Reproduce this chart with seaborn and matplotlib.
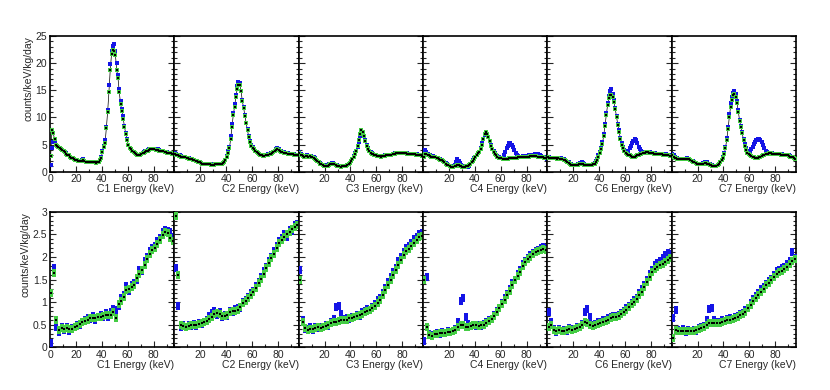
import numpy as np
import matplotlib
matplotlib.use("Agg")
import matplotlib.pyplot as plt
import matplotlib.ticker as mticker
import seaborn as sns

# energy bin centres (keV)
top_energy = np.arange(0.5, 96, 1.0)    # 1 keV bins, top row
bottom_energy = np.arange(1, 96, 2.0)   # 2 keV bins, bottom row

channels = ["C1", "C2", "C3", "C4", "C6", "C7"]

# ---- top row: full spectra (counts/keV/kg/day) ----
top_blue_c1 = [1.2, 4.3, 5.5, 5.5, 5.0, 4.8, 4.6, 4.4, 4.2, 4.0,
               3.8, 3.6, 3.4, 3.1, 3.0, 2.8, 2.6, 2.5, 2.3, 2.2,
               2.1, 2.0, 2.0, 1.9, 2.1, 2.3, 2.0, 1.8, 1.8, 1.8,
               1.7, 1.7, 1.7, 1.7, 1.7, 1.7, 1.7, 1.8, 2.2, 2.7,
               3.8, 4.8, 5.8, 8.3, 11.4, 16.0, 19.8, 22.3, 23.1, 23.5,
               22.3, 20.1, 17.9, 15.2, 13.0, 11.5, 10.2, 8.5, 7.2, 6.1,
               5.0, 4.4, 4.1, 3.8, 3.6, 3.4, 3.2, 3.1, 3.0, 3.1,
               3.3, 3.4, 3.6, 3.8, 3.9, 4.0, 4.1, 4.2, 4.2, 4.2,
               4.1, 4.1, 4.0, 4.1, 4.0, 3.9, 3.9, 3.8, 3.7, 3.7,
               3.6, 3.5, 3.5, 3.4, 3.3, 3.2]
top_green_c1 = [2.9, 7.7, 7.1, 6.0, 5.0, 4.7, 4.5, 4.4, 4.2, 4.0,
                3.8, 3.6, 3.3, 3.1, 3.0, 2.8, 2.6, 2.5, 2.3, 2.2,
                2.1, 2.0, 2.0, 1.9, 2.0, 2.1, 1.9, 1.8, 1.8, 1.8,
                1.7, 1.7, 1.7, 1.7, 1.7, 1.6, 1.7, 1.8, 2.1, 2.6,
                3.6, 4.6, 5.3, 8.0, 11.0, 14.7, 18.7, 21.6, 22.5, 22.3,
                21.5, 18.8, 17.3, 14.6, 12.5, 11.2, 9.8, 8.3, 7.0, 5.9,
                4.9, 4.4, 4.1, 3.8, 3.6, 3.4, 3.2, 3.1, 3.0, 3.1,
                3.2, 3.4, 3.5, 3.7, 3.8, 3.9, 4.0, 4.1, 4.1, 4.1,
                4.1, 4.0, 4.0, 4.0, 3.9, 3.9, 3.8, 3.8, 3.7, 3.6,
                3.5, 3.5, 3.4, 3.4, 3.3, 3.2]
top_blue_c2 = [3.4, 3.2, 3.0, 2.9, 3.0, 2.9, 2.8, 2.8, 2.7, 2.6,
               2.5, 2.5, 2.4, 2.3, 2.2, 2.1, 2.0, 1.9, 1.8, 1.7,
               1.6, 1.5, 1.5, 1.5, 1.4, 1.4, 1.4, 1.4, 1.4, 1.3,
               1.35, 1.35, 1.4, 1.4, 1.4, 1.4, 1.5, 1.6, 1.8, 2.2,
               2.9, 3.8, 4.6, 6.5, 8.8, 10.8, 12.4, 14.2, 15.8, 16.6,
               16.3, 14.8, 13.2, 12.0, 10.5, 9.0, 7.8, 6.6, 5.6, 4.9,
               4.5, 4.2, 3.9, 3.7, 3.5, 3.3, 3.1, 3.0, 2.9, 2.9,
               3.0, 3.1, 3.2, 3.3, 3.4, 3.5, 3.7, 3.9, 4.1, 4.3,
               4.1, 3.9, 3.8, 3.7, 3.6, 3.5, 3.4, 3.4, 3.3, 3.3,
               3.3, 3.2, 3.2, 3.1, 3.1, 3.0]
top_green_c2 = [3.2, 3.1, 3.0, 2.9, 2.9, 2.8, 2.8, 2.7, 2.7, 2.6,
                2.5, 2.4, 2.4, 2.3, 2.2, 2.1, 2.0, 1.9, 1.8, 1.7,
                1.6, 1.5, 1.5, 1.4, 1.4, 1.4, 1.4, 1.4, 1.3, 1.3,
                1.3, 1.35, 1.35, 1.4, 1.4, 1.4, 1.5, 1.6, 1.8, 2.1,
                2.7, 3.5, 4.3, 6.0, 8.3, 10.4, 12.0, 13.7, 15.2, 16.0,
                16.0, 14.9, 13.0, 11.8, 10.3, 8.9, 7.6, 6.4, 5.5, 4.8,
                4.4, 4.1, 3.8, 3.6, 3.4, 3.2, 3.1, 3.0, 2.9, 2.9,
                3.0, 3.0, 3.1, 3.2, 3.3, 3.4, 3.6, 3.8, 4.0, 4.2,
                4.0, 3.8, 3.7, 3.6, 3.5, 3.4, 3.4, 3.3, 3.3, 3.2,
                3.2, 3.2, 3.1, 3.1, 3.0, 3.0]
top_blue_c3 = [3.7, 3.2, 3.0, 2.9, 2.9, 2.9, 3.0, 2.9, 2.9, 2.9,
               2.8, 2.7, 2.5, 2.2, 2.0, 1.8, 1.6, 1.4, 1.3, 1.2,
               1.0, 1.1, 1.2, 1.4, 1.5, 1.6, 1.6, 1.5, 1.3, 1.2,
               1.1, 1.0, 1.0, 1.0, 1.0, 1.0, 1.1, 1.2, 1.4, 1.6,
               1.9, 2.4, 2.9, 3.4, 3.8, 4.6, 5.5, 6.6, 7.1, 7.0,
               6.6, 5.8, 4.9, 4.3, 3.8, 3.6, 3.4, 3.2, 3.1, 3.0,
               2.9, 2.9, 2.9, 2.9, 2.9, 2.9, 3.0, 3.0, 3.0, 3.1,
               3.1, 3.1, 3.2, 3.3, 3.4, 3.4, 3.5, 3.5, 3.5, 3.5,
               3.5, 3.4, 3.4, 3.4, 3.3, 3.3, 3.3, 3.3, 3.2, 3.2,
               3.2, 3.2, 3.1, 3.1, 3.0, 3.0]
top_green_c3 = [3.4, 3.1, 3.0, 2.9, 2.8, 2.9, 2.9, 2.8, 2.9, 2.8,
                2.8, 2.6, 2.4, 2.1, 1.9, 1.7, 1.5, 1.4, 1.2, 1.1,
                1.0, 1.0, 1.1, 1.3, 1.4, 1.5, 1.5, 1.4, 1.2, 1.1,
                1.0, 1.0, 0.9, 1.0, 1.0, 1.0, 1.1, 1.2, 1.4, 1.6,
                1.9, 2.3, 2.8, 3.3, 3.8, 4.7, 5.8, 6.9, 7.6, 7.3,
                6.6, 5.7, 4.8, 4.2, 3.8, 3.5, 3.3, 3.2, 3.1, 3.0,
                2.9, 2.9, 2.9, 2.8, 2.9, 2.9, 2.9, 3.0, 3.0, 3.0,
                3.1, 3.1, 3.2, 3.2, 3.3, 3.4, 3.4, 3.5, 3.5, 3.5,
                3.4, 3.4, 3.4, 3.3, 3.3, 3.3, 3.3, 3.2, 3.2, 3.2,
                3.1, 3.1, 3.1, 3.0, 3.0, 2.9]
top_blue_c4 = [3.0, 4.0, 3.6, 3.3, 3.1, 3.0, 2.9, 2.9, 2.8, 2.7,
               2.6, 2.5, 2.4, 2.3, 2.1, 2.0, 1.8, 1.6, 1.4, 1.2,
               1.1, 1.0, 0.9, 1.0, 1.3, 1.8, 2.3, 2.0, 1.6, 1.2,
               1.0, 0.9, 0.9, 0.9, 0.9, 1.1, 1.4, 1.7, 2.1, 2.5,
               2.8, 3.1, 3.4, 3.7, 4.3, 5.2, 6.0, 6.8, 7.2, 6.9,
               6.4, 5.6, 4.9, 4.2, 3.8, 3.4, 3.1, 2.9, 2.8, 2.6,
               2.5, 2.6, 3.1, 3.6, 4.3, 4.8, 5.2, 5.2, 4.9, 4.5,
               4.0, 3.4, 3.0, 2.9, 2.8, 2.8, 2.8, 2.9, 2.9, 2.9,
               2.9, 3.0, 3.0, 3.0, 3.1, 3.1, 3.2, 3.3, 3.2, 3.1,
               3.0, 2.9, 2.8, 2.7, 2.5, 2.4]
top_green_c4 = [2.8, 3.2, 3.2, 3.1, 3.0, 2.9, 2.8, 2.8, 2.7, 2.7,
                2.6, 2.5, 2.4, 2.2, 2.1, 1.9, 1.7, 1.5, 1.3, 1.2,
                1.0, 0.9, 0.9, 0.9, 1.0, 1.1, 1.3, 1.2, 1.1, 1.0,
                0.9, 0.9, 0.9, 1.0, 1.1, 1.2, 1.4, 1.7, 2.0, 2.4,
                2.8, 3.1, 3.4, 3.7, 4.2, 5.0, 6.0, 6.9, 7.3, 7.0,
                6.4, 5.6, 4.8, 4.1, 3.6, 3.3, 3.0, 2.8, 2.6, 2.5,
                2.5, 2.4, 2.4, 2.4, 2.4, 2.4, 2.5, 2.5, 2.5, 2.6,
                2.6, 2.6, 2.6, 2.7, 2.7, 2.7, 2.7, 2.8, 2.8, 2.8,
                2.8, 2.8, 2.9, 2.9, 2.9, 2.9, 2.9, 2.9, 2.8, 2.8,
                2.8, 2.7, 2.7, 2.6, 2.5, 2.5]
top_blue_c6 = [2.8, 2.7, 2.6, 2.6, 2.6, 2.5, 2.5, 2.5, 2.5, 2.5,
               2.5, 2.4, 2.3, 2.1, 2.0, 1.8, 1.7, 1.5, 1.4, 1.3,
               1.2, 1.2, 1.3, 1.4, 1.5, 1.6, 1.7, 1.6, 1.4, 1.3,
               1.3, 1.2, 1.2, 1.2, 1.3, 1.4, 1.6, 1.9, 2.4, 3.0,
               3.6, 4.4, 5.4, 7.0, 8.8, 10.8, 12.6, 14.0, 14.8, 15.2,
               14.4, 13.2, 11.8, 10.2, 8.8, 7.6, 6.2, 5.2, 4.5, 4.0,
               3.8, 3.7, 3.9, 4.3, 4.7, 5.2, 5.7, 6.1, 5.8, 5.2,
               4.6, 4.1, 3.8, 3.6, 3.5, 3.5, 3.6, 3.7, 3.6, 3.6,
               3.5, 3.5, 3.4, 3.4, 3.3, 3.3, 3.3, 3.3, 3.3, 3.2,
               3.2, 3.2, 3.1, 3.1, 3.0, 3.0]
top_green_c6 = [2.7, 2.6, 2.6, 2.5, 2.5, 2.5, 2.5, 2.4, 2.5, 2.4,
                2.4, 2.3, 2.2, 2.1, 1.9, 1.7, 1.6, 1.5, 1.3, 1.2,
                1.2, 1.2, 1.2, 1.3, 1.4, 1.5, 1.5, 1.4, 1.3, 1.2,
                1.2, 1.2, 1.2, 1.2, 1.3, 1.4, 1.5, 1.8, 2.2, 2.8,
                3.4, 4.2, 5.1, 6.6, 8.4, 10.4, 12.2, 13.6, 14.1, 14.2,
                13.8, 12.8, 11.5, 10.0, 8.6, 7.3, 6.0, 5.0, 4.3, 3.8,
                3.5, 3.3, 3.1, 3.0, 2.9, 2.8, 2.8, 2.8, 2.9, 3.0,
                3.1, 3.2, 3.3, 3.4, 3.5, 3.5, 3.6, 3.6, 3.5, 3.5,
                3.4, 3.4, 3.3, 3.3, 3.3, 3.2, 3.2, 3.2, 3.2, 3.1,
                3.1, 3.1, 3.0, 3.0, 2.9, 2.9]
top_blue_c7 = [3.2, 3.0, 2.8, 2.6, 2.5, 2.4, 2.4, 2.3, 2.3, 2.4,
               2.4, 2.5, 2.4, 2.3, 2.2, 2.0, 1.9, 1.7, 1.6, 1.5,
               1.4, 1.4, 1.4, 1.5, 1.6, 1.7, 1.8, 1.7, 1.5, 1.4,
               1.3, 1.2, 1.1, 1.0, 1.1, 1.3, 1.5, 1.8, 2.2, 2.8,
               3.4, 4.6, 6.2, 8.2, 10.6, 12.6, 13.8, 14.5, 14.9, 14.3,
               13.0, 11.3, 9.6, 8.4, 7.4, 6.1, 5.1, 4.4, 3.8, 3.7,
               3.8, 4.1, 4.6, 5.1, 5.5, 5.9, 6.1, 6.0, 5.8, 5.4,
               4.9, 4.4, 3.9, 3.6, 3.5, 3.4, 3.4, 3.4, 3.3, 3.3,
               3.3, 3.3, 3.3, 3.2, 3.2, 3.2, 3.1, 3.1, 3.1, 3.0,
               3.0, 2.9, 2.8, 2.7, 2.5, 2.4]
top_green_c7 = [3.0, 2.8, 2.6, 2.5, 2.4, 2.3, 2.3, 2.3, 2.3, 2.4,
                2.4, 2.4, 2.4, 2.3, 2.1, 2.0, 1.8, 1.7, 1.6, 1.5,
                1.4, 1.4, 1.4, 1.4, 1.5, 1.6, 1.6, 1.5, 1.4, 1.3,
                1.2, 1.1, 1.0, 1.0, 1.1, 1.3, 1.5, 1.7, 2.1, 2.6,
                3.2, 4.3, 5.8, 7.8, 10.0, 12.0, 13.3, 14.1, 14.4, 13.8,
                12.6, 11.0, 9.4, 8.2, 7.1, 5.8, 4.8, 4.0, 3.5, 3.2,
                3.1, 2.9, 2.8, 2.7, 2.6, 2.6, 2.6, 2.7, 2.8, 2.9,
                3.0, 3.1, 3.2, 3.3, 3.3, 3.4, 3.4, 3.3, 3.3, 3.3,
                3.3, 3.2, 3.2, 3.2, 3.1, 3.1, 3.1, 3.0, 3.0, 3.0,
                2.9, 2.8, 2.8, 2.7, 2.5, 2.4]

# ---- bottom row: zoom on the low rate region ----
bottom_blue_c1 = [0.1, 1.75, 0.45, 0.34, 0.45, 0.38, 0.44, 0.37, 0.42, 0.45, 0.5, 0.5,
                  0.57, 0.6, 0.64, 0.62, 0.7, 0.6, 0.68, 0.72, 0.66, 0.76, 0.68, 0.78,
                  0.85, 0.82, 0.92, 1.08, 1.15, 1.35, 1.25, 1.38, 1.42, 1.5, 1.7, 1.68,
                  1.9, 2.0, 2.12, 2.2, 2.25, 2.35, 2.42, 2.55, 2.6, 2.58, 2.55, 2.45]
bottom_green_c1 = [1.2, 1.64, 0.6, 0.38, 0.42, 0.4, 0.42, 0.41, 0.4, 0.46, 0.48, 0.52,
                   0.55, 0.58, 0.6, 0.64, 0.65, 0.64, 0.66, 0.68, 0.7, 0.72, 0.72, 0.72,
                   0.78, 0.65, 0.95, 1.03, 1.12, 1.27, 1.3, 1.33, 1.38, 1.53, 1.63, 1.72,
                   1.83, 1.95, 2.07, 2.15, 2.2, 2.28, 2.38, 2.48, 2.55, 2.52, 2.42, 2.36]
bottom_blue_c2 = [1.75, 0.92, 0.46, 0.5, 0.44, 0.5, 0.47, 0.52, 0.48, 0.54, 0.52, 0.57,
                  0.6, 0.7, 0.76, 0.8, 0.72, 0.78, 0.66, 0.72, 0.7, 0.8, 0.78, 0.84,
                  0.86, 0.88, 1.0, 1.05, 1.12, 1.2, 1.25, 1.36, 1.45, 1.55, 1.68, 1.78,
                  1.9, 2.0, 2.12, 2.25, 2.35, 2.42, 2.5, 2.45, 2.6, 2.58, 2.7, 2.72]
bottom_green_c2 = [2.9, 1.6, 0.5, 0.47, 0.46, 0.48, 0.5, 0.49, 0.5, 0.52, 0.53, 0.55,
                   0.58, 0.62, 0.68, 0.74, 0.75, 0.73, 0.7, 0.69, 0.72, 0.77, 0.8, 0.8,
                   0.83, 0.9, 0.97, 1.03, 1.08, 1.15, 1.23, 1.32, 1.42, 1.52, 1.63, 1.75,
                   1.87, 1.97, 2.07, 2.19, 2.3, 2.38, 2.45, 2.5, 2.56, 2.62, 2.66, 2.7]
bottom_blue_c3 = [1.7, 0.6, 0.4, 0.4, 0.44, 0.38, 0.45, 0.42, 0.46, 0.44, 0.5, 0.48,
                  0.56, 0.62, 0.9, 0.92, 0.74, 0.62, 0.64, 0.62, 0.68, 0.66, 0.72, 0.7,
                  0.77, 0.8, 0.84, 0.82, 0.9, 0.96, 1.05, 1.1, 1.2, 1.32, 1.45, 1.55,
                  1.66, 1.75, 1.9, 2.0, 2.1, 2.2, 2.25, 2.3, 2.4, 2.45, 2.5, 2.52]
bottom_green_c3 = [1.49, 0.55, 0.42, 0.38, 0.41, 0.4, 0.42, 0.44, 0.43, 0.46, 0.48, 0.5,
                   0.54, 0.56, 0.57, 0.58, 0.6, 0.6, 0.61, 0.64, 0.65, 0.67, 0.69, 0.72,
                   0.74, 0.78, 0.8, 0.83, 0.86, 0.92, 0.98, 1.05, 1.15, 1.27, 1.38, 1.5,
                   1.6, 1.7, 1.83, 1.94, 2.04, 2.13, 2.18, 2.24, 2.3, 2.38, 2.44, 2.46]
bottom_blue_c4 = [0.13, 1.55, 0.3, 0.28, 0.3, 0.32, 0.3, 0.33, 0.31, 0.35, 0.34, 0.37,
                  0.4, 0.55, 1.03, 1.1, 0.68, 0.52, 0.48, 0.5, 0.48, 0.5, 0.48, 0.52,
                  0.56, 0.6, 0.62, 0.72, 0.8, 0.88, 0.98, 1.08, 1.18, 1.3, 1.42, 1.5,
                  1.62, 1.7, 1.85, 1.92, 1.98, 2.05, 2.08, 2.12, 2.15, 2.2, 2.22, 2.2]
bottom_green_c4 = [1.49, 0.45, 0.27, 0.26, 0.29, 0.3, 0.31, 0.31, 0.32, 0.33, 0.34, 0.35,
                   0.38, 0.45, 0.5, 0.5, 0.45, 0.45, 0.48, 0.49, 0.49, 0.48, 0.49, 0.5,
                   0.54, 0.58, 0.63, 0.7, 0.78, 0.87, 0.96, 1.05, 1.15, 1.25, 1.37, 1.48,
                   1.58, 1.67, 1.79, 1.88, 1.95, 2.0, 2.06, 2.1, 2.13, 2.16, 2.18, 2.15]
bottom_blue_c6 = [0.79, 0.55, 0.4, 0.34, 0.4, 0.36, 0.39, 0.36, 0.42, 0.4, 0.41, 0.45,
                  0.46, 0.52, 0.78, 0.85, 0.66, 0.5, 0.52, 0.55, 0.55, 0.6, 0.6, 0.65,
                  0.66, 0.7, 0.7, 0.72, 0.76, 0.8, 0.86, 0.92, 0.98, 1.05, 1.1, 1.2,
                  1.28, 1.38, 1.5, 1.62, 1.72, 1.82, 1.86, 1.9, 1.98, 2.04, 2.08, 2.06]
bottom_green_c6 = [0.45, 0.5, 0.38, 0.36, 0.38, 0.37, 0.37, 0.38, 0.4, 0.38, 0.4, 0.42,
                   0.44, 0.49, 0.55, 0.53, 0.5, 0.48, 0.49, 0.51, 0.53, 0.56, 0.58, 0.61,
                   0.64, 0.66, 0.67, 0.7, 0.73, 0.78, 0.83, 0.89, 0.95, 1.01, 1.07, 1.15,
                   1.23, 1.34, 1.44, 1.55, 1.66, 1.74, 1.77, 1.81, 1.84, 1.88, 1.93, 1.97]
bottom_blue_c7 = [0.64, 0.83, 0.38, 0.35, 0.4, 0.34, 0.38, 0.35, 0.39, 0.37, 0.42, 0.44,
                  0.48, 0.6, 0.84, 0.88, 0.6, 0.56, 0.55, 0.6, 0.58, 0.62, 0.64, 0.63,
                  0.68, 0.7, 0.74, 0.76, 0.82, 0.88, 0.98, 1.06, 1.14, 1.2, 1.28, 1.33,
                  1.4, 1.46, 1.52, 1.6, 1.68, 1.7, 1.75, 1.78, 1.85, 1.92, 2.1, 1.98]
bottom_green_c7 = [0.2, 0.38, 0.35, 0.36, 0.37, 0.36, 0.35, 0.36, 0.36, 0.38, 0.4, 0.42,
                   0.46, 0.5, 0.54, 0.53, 0.53, 0.53, 0.54, 0.56, 0.58, 0.6, 0.6, 0.62,
                   0.65, 0.68, 0.71, 0.74, 0.79, 0.86, 0.94, 1.03, 1.1, 1.16, 1.22, 1.3,
                   1.37, 1.42, 1.5, 1.56, 1.63, 1.66, 1.69, 1.73, 1.78, 1.84, 1.9, 1.95]

top_blue = [top_blue_c1, top_blue_c2, top_blue_c3, top_blue_c4, top_blue_c6, top_blue_c7]
top_green = [top_green_c1, top_green_c2, top_green_c3, top_green_c4, top_green_c6, top_green_c7]
bottom_blue = [bottom_blue_c1, bottom_blue_c2, bottom_blue_c3, bottom_blue_c4, bottom_blue_c6, bottom_blue_c7]
bottom_green = [bottom_green_c1, bottom_green_c2, bottom_green_c3, bottom_green_c4, bottom_green_c6, bottom_green_c7]

blue = "#1414e6"
green = "#44cc44"

sns.set_style("ticks")
plt.rcParams["font.family"] = ["Liberation Sans", "DejaVu Sans"]

fig = plt.figure(figsize=(8.3, 3.9), dpi=100)

W, H = 830.0, 390.0
x0, pw = 50.0, 124.33
rows = [(36.0, 171.7), (211.7, 347.3)]   # pixel top / bottom of each row

# tall box for the low-rate points (error box look)
box = [(-1, -2.4), (1, -2.4), (1, 2.4), (-1, 2.4), (-1, -2.4)]

for r, (ytop, ybot) in enumerate(rows):
    for i, ch in enumerate(channels):
        ax = fig.add_axes([(x0 + i * pw) / W, (H - ybot) / H, pw / W, (ybot - ytop) / H])
        if r == 0:
            x = top_energy
            sns.lineplot(x=x, y=top_green[i], ax=ax, color="black", lw=0.5,
                         estimator=None, zorder=2)
            sns.scatterplot(x=x, y=top_blue[i], ax=ax, color=blue, marker="s", s=7,
                            linewidth=0, zorder=3)
            sns.scatterplot(x=x, y=top_green[i], ax=ax, color=green, marker="s", s=6,
                            linewidth=0, zorder=4)
            sns.scatterplot(x=x, y=top_green[i], ax=ax, color="black", marker="s", s=0.6,
                            linewidth=0, zorder=5)
            ax.set_ylim(0, 25)
            ax.yaxis.set_major_locator(mticker.MultipleLocator(5))
            ax.yaxis.set_minor_locator(mticker.MultipleLocator(1))
        else:
            x = bottom_energy
            sns.scatterplot(x=x, y=bottom_blue[i], ax=ax, color=blue, marker=box, s=30,
                            linewidth=0, zorder=3)
            sns.scatterplot(x=x, y=bottom_green[i], ax=ax, color=green, marker=box, s=30,
                            linewidth=0, zorder=4)
            sns.scatterplot(x=x, y=bottom_green[i], ax=ax, color="black", marker="s", s=1,
                            linewidth=0, zorder=5)
            ax.set_ylim(0, 3)
            ax.yaxis.set_major_locator(mticker.MultipleLocator(0.5))
            ax.yaxis.set_minor_locator(mticker.MultipleLocator(0.1))

        ax.set_xlim(0, 96)
        ax.set_xticks([0, 20, 40, 60, 80] if i == 0 else [20, 40, 60, 80])
        ax.xaxis.set_minor_locator(mticker.MultipleLocator(10))
        ax.yaxis.set_major_formatter(mticker.FuncFormatter(lambda v, p: "%g" % v))

        ax.tick_params(axis="both", which="both", direction="in", labelsize=7.5,
                       left=True, right=True, bottom=True, top=False, width=0.8, pad=2)
        ax.tick_params(which="major", length=4)
        ax.tick_params(which="minor", length=2)
        if i > 0:
            ax.tick_params(axis="y", labelleft=False)
        for sp in ax.spines.values():
            sp.set_linewidth(1.2)
            sp.set_color("black")

        ax.set_xlabel(ch + " Energy (keV)", loc="right", fontsize=7.5, labelpad=0)
        if i == 0:
            ax.set_ylabel("counts/keV/kg/day", loc="top", fontsize=7.5, labelpad=1.5)
        else:
            ax.set_ylabel("")

fig.savefig("out.png", dpi=100)
